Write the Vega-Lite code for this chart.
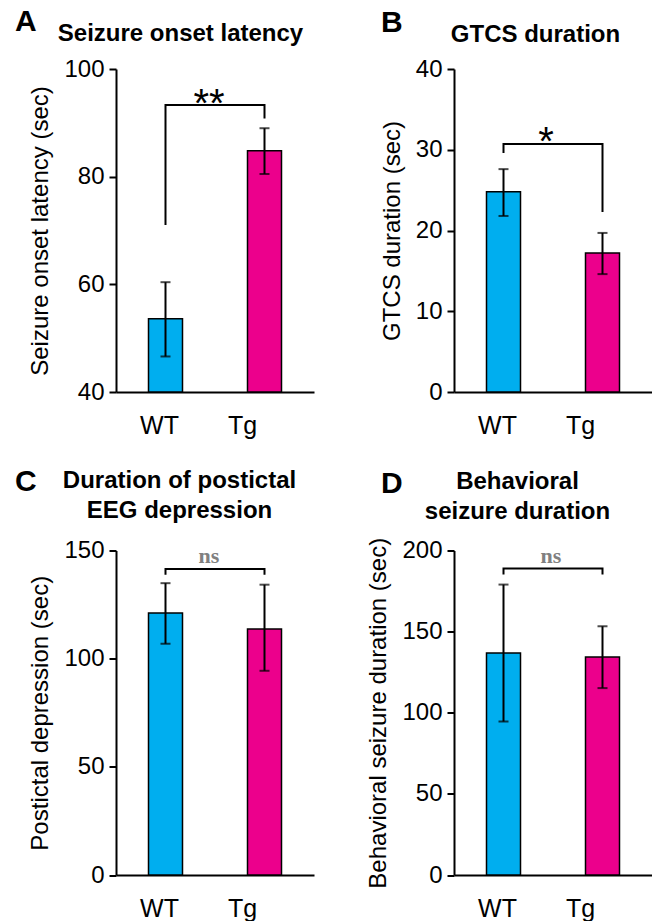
{
  "$schema": "https://vega.github.io/schema/vega-lite/v6.json",
  "padding": {"left": 15, "top": 6, "right": 0, "bottom": 0},
  "background": "white",
  "datasets": {
    "bars": [
      {"panel": "A", "group": "WT", "mean": 53.6, "lower": 46.6, "upper": 60.4},
      {"panel": "A", "group": "Tg", "mean": 84.8, "lower": 80.5, "upper": 89.0},
      {"panel": "B", "group": "WT", "mean": 24.8, "lower": 21.8, "upper": 27.6},
      {"panel": "B", "group": "Tg", "mean": 17.2, "lower": 14.6, "upper": 19.7},
      {"panel": "C", "group": "WT", "mean": 121.1, "lower": 106.9, "upper": 134.9},
      {"panel": "C", "group": "Tg", "mean": 113.7, "lower": 94.4, "upper": 134.2},
      {"panel": "D", "group": "WT", "mean": 136.8, "lower": 94.6, "upper": 179.0},
      {"panel": "D", "group": "Tg", "mean": 134.3, "lower": 115.2, "upper": 153.3}
    ],
    "brackets": [
      {"panel": "A", "group": "WT", "y": 71.0, "order": 1},
      {"panel": "A", "group": "WT", "y": 93.3, "order": 2},
      {"panel": "A", "group": "Tg", "y": 93.3, "order": 3},
      {"panel": "A", "group": "Tg", "y": 90.8, "order": 4},
      {"panel": "B", "group": "WT", "y": 29.6, "order": 1},
      {"panel": "B", "group": "WT", "y": 30.7, "order": 2},
      {"panel": "B", "group": "Tg", "y": 30.7, "order": 3},
      {"panel": "B", "group": "Tg", "y": 22.3, "order": 4},
      {"panel": "C", "group": "WT", "y": 138.8, "order": 1},
      {"panel": "C", "group": "WT", "y": 141.5, "order": 2},
      {"panel": "C", "group": "Tg", "y": 141.5, "order": 3},
      {"panel": "C", "group": "Tg", "y": 138.8, "order": 4},
      {"panel": "D", "group": "WT", "y": 185.2, "order": 1},
      {"panel": "D", "group": "WT", "y": 188.9, "order": 2},
      {"panel": "D", "group": "Tg", "y": 188.9, "order": 3},
      {"panel": "D", "group": "Tg", "y": 185.2, "order": 4}
    ],
    "sig": [
      {"panel": "A", "group": "Tg", "label": "**", "y": 91.1},
      {"panel": "B", "group": "Tg", "label": "*", "y": 29.3},
      {"panel": "C", "group": "Tg", "label": "ns", "y": 144.2},
      {"panel": "D", "group": "Tg", "label": "ns", "y": 192.3}
    ]
  },
  "config": {
    "font": "Liberation Sans",
    "view": {"stroke": null},
    "scale": {"bandPaddingInner": 0, "bandPaddingOuter": 0},
    "title": {"fontSize": 30, "fontWeight": "bold", "anchor": "start", "frame": "group", "offset": 0, "color": "black", "font": "Liberation Sans"},
    "axis": {"domainColor": "black", "domainWidth": 2, "tickColor": "black", "tickWidth": 2, "labelColor": "black", "titleColor": "black", "grid": false, "labelFont": "Liberation Sans", "titleFont": "Liberation Sans"},
    "axisY": {"labelFontSize": 24, "tickSize": 7, "labelPadding": 5, "titleFontSize": 24, "titleFontWeight": "normal", "titlePadding": 11},
    "axisX": {"labelAngle": 0, "ticks": false, "tickSize": 0, "labelPadding": 21, "labelFontSize": 25, "labelOffset": {"condition": {"test": "datum.value === 'Tg'", "value": -22}, "value": -6}, "titleFontSize": 24, "titleFontWeight": "bold", "titleBaseline": "alphabetic", "titleAlign": "center", "titleLineHeight": 30}
  },
  "bounds": "flush",
  "columns": 2,
  "spacing": {"row": 158.5, "column": 140},
  "concat": [
    {
      "width": 198, "height": 323,
      "title": {"text": "A", "dx": -101, "dy": 19.3},
      "layer": [
        {"data": {"name": "bars"}, "transform": [{"filter": "datum.panel === 'A'"}],
         "mark": {"type": "bar", "width": 34, "stroke": "black", "strokeWidth": 1.5},
         "encoding": {
           "x": {"field": "group", "type": "nominal", "sort": ["WT", "Tg"], "axis": {"title": "Seizure onset latency", "titleX": 64, "titleY": -351.3}},
           "y": {"field": "mean", "type": "quantitative", "scale": {"domain": [40, 100], "nice": false, "zero": false}, "axis": {"values": [40, 60, 80, 100], "title": "Seizure onset latency (sec)"}},
           "y2": {"datum": 40},
           "color": {"field": "group", "type": "nominal", "scale": {"domain": ["WT", "Tg"], "range": ["#00AEEF", "#EC008C"]}, "legend": null}}},
        {"data": {"name": "bars"}, "transform": [{"filter": "datum.panel === 'A'"}],
         "mark": {"type": "rule", "strokeWidth": 2, "color": "black"},
         "encoding": {"x": {"field": "group", "type": "nominal", "sort": ["WT", "Tg"]}, "y": {"field": "lower", "type": "quantitative"}, "y2": {"field": "upper"}}},
        {"data": {"name": "bars"}, "transform": [{"filter": "datum.panel === 'A'"}],
         "mark": {"type": "tick", "size": 10, "thickness": 2, "color": "black"},
         "encoding": {"x": {"field": "group", "type": "nominal", "sort": ["WT", "Tg"]}, "y": {"field": "lower", "type": "quantitative"}}},
        {"data": {"name": "bars"}, "transform": [{"filter": "datum.panel === 'A'"}],
         "mark": {"type": "tick", "size": 10, "thickness": 2, "color": "black"},
         "encoding": {"x": {"field": "group", "type": "nominal", "sort": ["WT", "Tg"]}, "y": {"field": "upper", "type": "quantitative"}}},
        {"data": {"name": "brackets"}, "transform": [{"filter": "datum.panel === 'A'"}],
         "mark": {"type": "line", "color": "black", "strokeWidth": 2},
         "encoding": {"x": {"field": "group", "type": "nominal", "sort": ["WT", "Tg"]}, "y": {"field": "y", "type": "quantitative"}, "order": {"field": "order", "type": "quantitative"}}},
        {"data": {"name": "sig"}, "transform": [{"filter": "datum.panel === 'A'"}],
         "mark": {"type": "text", "baseline": "alphabetic", "align": "center", "dx": -6, "font": "Liberation Sans", "fontSize": 40, "color": "black"},
         "encoding": {"x": {"field": "group", "type": "nominal", "sort": ["WT", "Tg"], "bandPosition": 0}, "y": {"field": "y", "type": "quantitative"}, "text": {"field": "label"}}}
      ]
    },
    {
      "width": 198, "height": 323,
      "title": {"text": "B", "dx": -73, "dy": 19.3},
      "layer": [
        {"data": {"name": "bars"}, "transform": [{"filter": "datum.panel === 'B'"}],
         "mark": {"type": "bar", "width": 34, "stroke": "black", "strokeWidth": 1.5},
         "encoding": {
           "x": {"field": "group", "type": "nominal", "sort": ["WT", "Tg"], "axis": {"title": "GTCS duration", "titleX": 81, "titleY": -350.3}},
           "y": {"field": "mean", "type": "quantitative", "scale": {"domain": [0, 40], "nice": false}, "axis": {"values": [0, 10, 20, 30, 40], "title": "GTCS duration (sec)"}},
           "color": {"field": "group", "type": "nominal", "scale": {"domain": ["WT", "Tg"], "range": ["#00AEEF", "#EC008C"]}, "legend": null}}},
        {"data": {"name": "bars"}, "transform": [{"filter": "datum.panel === 'B'"}],
         "mark": {"type": "rule", "strokeWidth": 2, "color": "black"},
         "encoding": {"x": {"field": "group", "type": "nominal", "sort": ["WT", "Tg"]}, "y": {"field": "lower", "type": "quantitative"}, "y2": {"field": "upper"}}},
        {"data": {"name": "bars"}, "transform": [{"filter": "datum.panel === 'B'"}],
         "mark": {"type": "tick", "size": 10, "thickness": 2, "color": "black"},
         "encoding": {"x": {"field": "group", "type": "nominal", "sort": ["WT", "Tg"]}, "y": {"field": "lower", "type": "quantitative"}}},
        {"data": {"name": "bars"}, "transform": [{"filter": "datum.panel === 'B'"}],
         "mark": {"type": "tick", "size": 10, "thickness": 2, "color": "black"},
         "encoding": {"x": {"field": "group", "type": "nominal", "sort": ["WT", "Tg"]}, "y": {"field": "upper", "type": "quantitative"}}},
        {"data": {"name": "brackets"}, "transform": [{"filter": "datum.panel === 'B'"}],
         "mark": {"type": "line", "color": "black", "strokeWidth": 2},
         "encoding": {"x": {"field": "group", "type": "nominal", "sort": ["WT", "Tg"]}, "y": {"field": "y", "type": "quantitative"}, "order": {"field": "order", "type": "quantitative"}}},
        {"data": {"name": "sig"}, "transform": [{"filter": "datum.panel === 'B'"}],
         "mark": {"type": "text", "baseline": "alphabetic", "align": "center", "dx": -7, "font": "Liberation Sans", "fontSize": 40, "color": "black"},
         "encoding": {"x": {"field": "group", "type": "nominal", "sort": ["WT", "Tg"], "bandPosition": 0}, "y": {"field": "y", "type": "quantitative"}, "text": {"field": "label"}}}
      ]
    },
    {
      "width": 198, "height": 324.5,
      "title": {"text": "C", "dx": -101, "dy": 33.2},
      "layer": [
        {"data": {"name": "bars"}, "transform": [{"filter": "datum.panel === 'C'"}],
         "mark": {"type": "bar", "width": 34, "stroke": "black", "strokeWidth": 1.5},
         "encoding": {
           "x": {"field": "group", "type": "nominal", "sort": ["WT", "Tg"], "axis": {"title": ["Duration of postictal", "EEG depression"], "titleX": 63, "titleY": -388}},
           "y": {"field": "mean", "type": "quantitative", "scale": {"domain": [0, 150], "nice": false}, "axis": {"values": [0, 50, 100, 150], "title": "Postictal depression (sec)"}},
           "color": {"field": "group", "type": "nominal", "scale": {"domain": ["WT", "Tg"], "range": ["#00AEEF", "#EC008C"]}, "legend": null}}},
        {"data": {"name": "bars"}, "transform": [{"filter": "datum.panel === 'C'"}],
         "mark": {"type": "rule", "strokeWidth": 2, "color": "black"},
         "encoding": {"x": {"field": "group", "type": "nominal", "sort": ["WT", "Tg"]}, "y": {"field": "lower", "type": "quantitative"}, "y2": {"field": "upper"}}},
        {"data": {"name": "bars"}, "transform": [{"filter": "datum.panel === 'C'"}],
         "mark": {"type": "tick", "size": 10, "thickness": 2, "color": "black"},
         "encoding": {"x": {"field": "group", "type": "nominal", "sort": ["WT", "Tg"]}, "y": {"field": "lower", "type": "quantitative"}}},
        {"data": {"name": "bars"}, "transform": [{"filter": "datum.panel === 'C'"}],
         "mark": {"type": "tick", "size": 10, "thickness": 2, "color": "black"},
         "encoding": {"x": {"field": "group", "type": "nominal", "sort": ["WT", "Tg"]}, "y": {"field": "upper", "type": "quantitative"}}},
        {"data": {"name": "brackets"}, "transform": [{"filter": "datum.panel === 'C'"}],
         "mark": {"type": "line", "color": "black", "strokeWidth": 2},
         "encoding": {"x": {"field": "group", "type": "nominal", "sort": ["WT", "Tg"]}, "y": {"field": "y", "type": "quantitative"}, "order": {"field": "order", "type": "quantitative"}}},
        {"data": {"name": "sig"}, "transform": [{"filter": "datum.panel === 'C'"}],
         "mark": {"type": "text", "baseline": "alphabetic", "align": "center", "dx": -6, "font": "Liberation Serif", "fontWeight": "bold", "fontSize": 22, "color": "#808080"},
         "encoding": {"x": {"field": "group", "type": "nominal", "sort": ["WT", "Tg"], "bandPosition": 0}, "y": {"field": "y", "type": "quantitative"}, "text": {"field": "label"}}}
      ]
    },
    {
      "width": 198, "height": 324.5,
      "title": {"text": "D", "dx": -73, "dy": 33.6},
      "layer": [
        {"data": {"name": "bars"}, "transform": [{"filter": "datum.panel === 'D'"}],
         "mark": {"type": "bar", "width": 34, "stroke": "black", "strokeWidth": 1.5},
         "encoding": {
           "x": {"field": "group", "type": "nominal", "sort": ["WT", "Tg"], "axis": {"title": ["Behavioral", "seizure duration"], "titleX": 63, "titleY": -386.7}},
           "y": {"field": "mean", "type": "quantitative", "scale": {"domain": [0, 200], "nice": false}, "axis": {"values": [0, 50, 100, 150, 200], "title": "Behavioral seizure duration (sec)"}},
           "color": {"field": "group", "type": "nominal", "scale": {"domain": ["WT", "Tg"], "range": ["#00AEEF", "#EC008C"]}, "legend": null}}},
        {"data": {"name": "bars"}, "transform": [{"filter": "datum.panel === 'D'"}],
         "mark": {"type": "rule", "strokeWidth": 2, "color": "black"},
         "encoding": {"x": {"field": "group", "type": "nominal", "sort": ["WT", "Tg"]}, "y": {"field": "lower", "type": "quantitative"}, "y2": {"field": "upper"}}},
        {"data": {"name": "bars"}, "transform": [{"filter": "datum.panel === 'D'"}],
         "mark": {"type": "tick", "size": 10, "thickness": 2, "color": "black"},
         "encoding": {"x": {"field": "group", "type": "nominal", "sort": ["WT", "Tg"]}, "y": {"field": "lower", "type": "quantitative"}}},
        {"data": {"name": "bars"}, "transform": [{"filter": "datum.panel === 'D'"}],
         "mark": {"type": "tick", "size": 10, "thickness": 2, "color": "black"},
         "encoding": {"x": {"field": "group", "type": "nominal", "sort": ["WT", "Tg"]}, "y": {"field": "upper", "type": "quantitative"}}},
        {"data": {"name": "brackets"}, "transform": [{"filter": "datum.panel === 'D'"}],
         "mark": {"type": "line", "color": "black", "strokeWidth": 2},
         "encoding": {"x": {"field": "group", "type": "nominal", "sort": ["WT", "Tg"]}, "y": {"field": "y", "type": "quantitative"}, "order": {"field": "order", "type": "quantitative"}}},
        {"data": {"name": "sig"}, "transform": [{"filter": "datum.panel === 'D'"}],
         "mark": {"type": "text", "baseline": "alphabetic", "align": "center", "dx": -2, "font": "Liberation Serif", "fontWeight": "bold", "fontSize": 22, "color": "#808080"},
         "encoding": {"x": {"field": "group", "type": "nominal", "sort": ["WT", "Tg"], "bandPosition": 0}, "y": {"field": "y", "type": "quantitative"}, "text": {"field": "label"}}}
      ]
    }
  ]
}
